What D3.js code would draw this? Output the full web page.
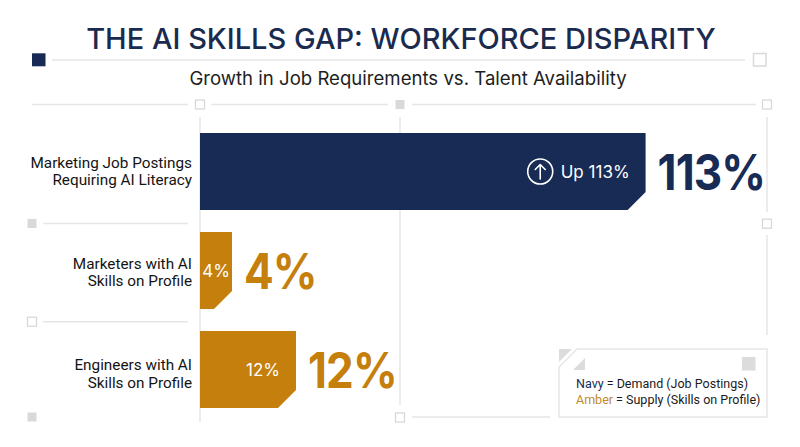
<!DOCTYPE html>
<html>
<head>
<meta charset="utf-8">
<script src="https://cdn.jsdelivr.net/npm/d3@7"></script>
<style>
  html, body { margin: 0; padding: 0; background: #ffffff; }
  svg { display: block; }
</style>
</head>
<body>
<svg id="chart" width="800" height="447"></svg>
<script>
// ---- data ----
const categories = [
  "Marketing Job Postings|Requiring AI Literacy",
  "Marketers with AI|Skills on Profile",
  "Engineers with AI|Skills on Profile"
];
const values = [113, 4, 12];
const series = ["demand", "supply", "supply"];
const innerLabels = ["Up 113%", "4%", "12%"];
const valueLabels = ["113%", "4%", "12%"];
const gridTicks = [0, 25];
const titleText = "THE AI SKILLS GAP: WORKFORCE DISPARITY";
const subtitleText = "Growth in Job Requirements vs. Talent Availability";
const legendItems = [
  { key: "Navy", rest: " = Demand (Job Postings)", series: "demand" },
  { key: "Amber", rest: " = Supply (Skills on Profile)", series: "supply" }
];

// ---- styles ----
const NAVY = "#172b54";
const AMBER = "#c47f0c";
const AMBER_TEXT = "#c28a2e";
const GRID = "#e6e6e6";
const SQ = "#d9d9d9";
const colorOf = s => s === "demand" ? NAVY : AMBER;

const svg = d3.select("#chart");
svg.append("rect").attr("width", 800).attr("height", 447).attr("fill", "#fff");

// ---- scales ----
const axisBreak = 55.7; // values beyond this are drawn as a broken (capped) bar
const x = d3.scaleLinear().domain([0, 70]).range([200, 760]).clamp(true);
const y = d3.scaleBand().domain(categories).range([122, 419]).paddingInner(0.22).paddingOuter(0.11);
const labelY = d3.scalePoint().domain(categories).range([167.5, 370]);

// ---- title ----
svg.append("text").attr("x", 401).attr("y", 48.5).attr("text-anchor", "middle")
  .attr("font-family", "Inter").attr("font-weight", 500).attr("font-size", 29)
  .attr("fill", "#1a2b4f").text(titleText);
svg.append("text").attr("x", 408).attr("y", 84.5).attr("text-anchor", "middle")
  .attr("font-family", "Inter").attr("font-weight", 400).attr("font-size", 18.6)
  .attr("fill", "#1e1e1e").text(subtitleText);

// header rule
svg.append("rect").attr("x", 32).attr("y", 53.3).attr("width", 13.5).attr("height", 13)
  .attr("fill", NAVY);
svg.append("line").attr("x1", 52).attr("x2", 745).attr("y1", 60).attr("y2", 60)
  .attr("stroke", GRID).attr("stroke-width", 1.5);
svg.append("rect").attr("x", 753.5).attr("y", 53.5).attr("width", 12.5).attr("height", 12.5)
  .attr("fill", "#fff").attr("stroke", SQ).attr("stroke-width", 1.5);

// ---- decorative frame ----
const deco = svg.append("g");
function hline(x1, x2, yy) {
  deco.append("line").attr("x1", x1).attr("x2", x2).attr("y1", yy).attr("y2", yy)
    .attr("stroke", GRID).attr("stroke-width", 1.5);
}
function vline(xx, y1, y2) {
  deco.append("line").attr("x1", xx).attr("x2", xx).attr("y1", y1).attr("y2", y2)
    .attr("stroke", GRID).attr("stroke-width", 1.5);
}
function square(cx, cy, filled) {
  deco.append("rect").attr("x", cx - 4.5).attr("y", cy - 4.5).attr("width", 9).attr("height", 9)
    .attr("fill", filled ? SQ : "#fff").attr("stroke", SQ).attr("stroke-width", filled ? 0 : 1.3);
}
const x0 = x(0), xMid = x(gridTicks[1]), xR = 767;
// top row
hline(32, 188, 104.5); square(x0, 104.5, false);
hline(211, 388, 104.5); square(xMid, 104.5, true);
hline(412, 756, 104.5); square(xR, 104.5, false);
// vertical grid lines
vline(x0, 117, 422);
vline(xMid, 117, 405);
vline(xR, 117, 212); square(xR, 223.7, false); vline(xR, 235, 335);
// separators between rows
square(32, 223.5, true); hline(43, 188, 223.5);
square(32, 321.7, false); hline(43, 188, 321.7);
square(32, 417, true);
square(xMid, 417.5, false); hline(412, 550, 417);

// ---- bars ----
const CH = 18; // chamfer
const rows = categories.map((c, i) => ({
  cat: c, value: values[i], series: series[i], inner: innerLabels[i], outer: valueLabels[i]
}));
const g = svg.append("g");
rows.forEach(d => {
  const xa = x(0);
  const xb = x(Math.min(d.value, axisBreak));
  const ya = y(d.cat), yb = ya + y.bandwidth();
  const c = Math.min(CH, xb - xa);
  const p = d3.path();
  p.moveTo(xa, ya); p.lineTo(xb, ya); p.lineTo(xb, yb - c); p.lineTo(xb - c, yb); p.lineTo(xa, yb); p.closePath();
  g.append("path").attr("d", p.toString()).attr("fill", colorOf(d.series));

  const cy = ya + y.bandwidth() / 2;
  const w = xb - xa;
  const t = g.append("text").attr("y", cy).attr("dy", "0.4em")
    .attr("font-family", "Inter").attr("font-size", 17).attr("fill", "#fff").text(d.inner);
  if (w < 60) {
    t.attr("x", (xa + xb) / 2).attr("text-anchor", "middle");
  } else {
    t.attr("x", xb - 16).attr("text-anchor", "end");
  }
  if (d.series === "demand") {
    const tw = t.node().getComputedTextLength();
    const icx = xb - 16 - tw - 20.5;
    g.append("circle").attr("cx", icx).attr("cy", cy).attr("r", 12.5)
      .attr("fill", "none").attr("stroke", "#fff").attr("stroke-width", 1.6);
    g.append("path")
      .attr("d", `M${icx},${cy + 7.5}V${cy - 7}M${icx - 5},${cy - 2}L${icx},${cy - 7}L${icx + 5},${cy - 2}`)
      .attr("fill", "none").attr("stroke", "#fff").attr("stroke-width", 1.6)
      .attr("stroke-linecap", "round").attr("stroke-linejoin", "round");
  }
  g.append("text").attr("transform", `translate(${xb + 12},${cy}) scale(0.88,1)`)
    .attr("x", 0).attr("y", 0).attr("dy", "0.37em")
    .attr("font-family", "Inter").attr("font-weight", 700).attr("font-size", 50)
    .attr("letter-spacing", -1)
    .attr("fill", colorOf(d.series)).text(d.outer);

  // category label
  const lines = d.cat.split("|");
  const lt = g.append("text").attr("text-anchor", "end")
    .attr("font-family", "Roboto").attr("font-size", 15.3).attr("fill", "#141414");
  lines.forEach((ln, k) => {
    lt.append("tspan").attr("x", 192).attr("y", labelY(d.cat) + k * 17.7).text(ln);
  });
});

// ---- legend ----
const lg = svg.append("g");
const L = { x0: 559, y0: 349, x1: 767, y1: 417, cut: 18 };
lg.append("path")
  .attr("d", `M${L.x0 + L.cut},${L.y0}H${L.x1}V${L.y1}H${L.x0}V${L.y0 + L.cut}Z`)
  .attr("fill", "#fff").attr("stroke", GRID).attr("stroke-width", 1.5);
lg.append("path").attr("d", `M${L.x0},${L.y0}H${L.x0 + 13}L${L.x0},${L.y0 + 13}Z`).attr("fill", "#dcdcdc");
lg.append("path").attr("d", `M${L.x0 + 26},${L.y0 + 9}V${L.y0 + 21}H${L.x0 + 14}Z`).attr("fill", "#dcdcdc");
lg.append("rect").attr("x", 742).attr("y", 357).attr("width", 13.5).attr("height", 13.5).attr("fill", "#dcdcdc");
legendItems.forEach((it, i) => {
  const t = lg.append("text").attr("x", 576).attr("y", 388.3 + i * 15.8)
    .attr("font-family", "Roboto").attr("font-size", 12.5).attr("fill", "#1a1a1a");
  t.append("tspan").attr("fill", it.series === "demand" ? NAVY : AMBER_TEXT).text(it.key);
  t.append("tspan").text(it.rest);
});
</script>
</body>
</html>
